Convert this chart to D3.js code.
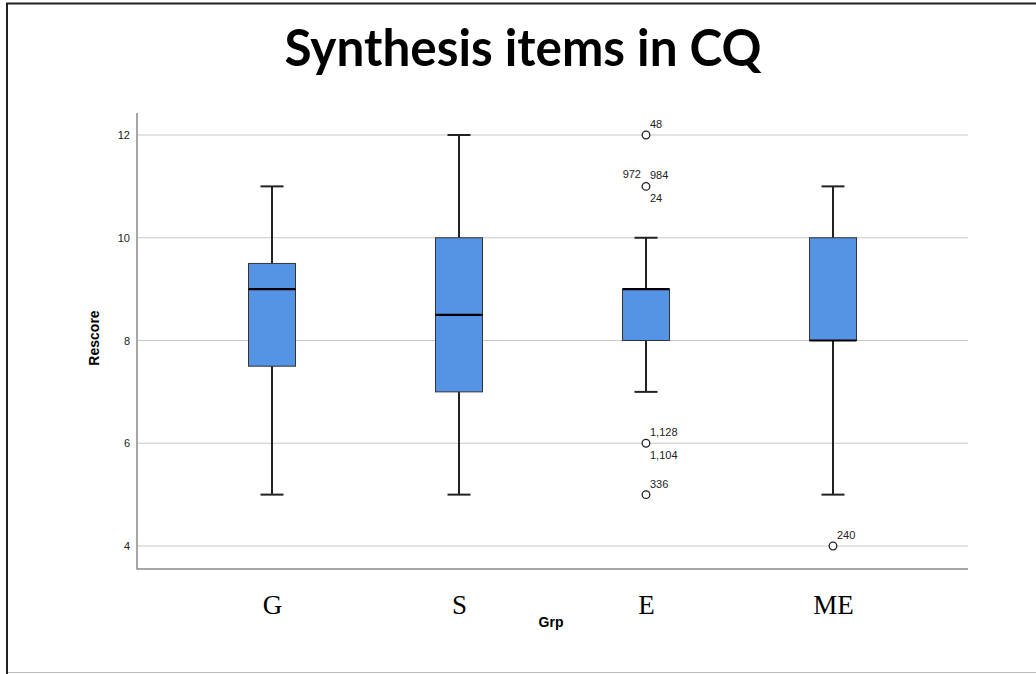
<!DOCTYPE html>
<html>
<head>
<meta charset="utf-8">
<script src="https://cdn.jsdelivr.net/npm/d3@7"></script>
<style>
html,body{margin:0;padding:0;background:#fff;}
svg{display:block;}
</style>
</head>
<body>
<svg id="chart" width="1036" height="674"></svg>
<script>
const categories = ["G", "S", "E", "ME"];
const whiskerLow  = [5, 5, 7, 5];
const q1Values    = [7.5, 7, 8, 8];
const medians     = [9, 8.5, 9, 8];
const q3Values    = [9.5, 10, 9, 10];
const whiskerHigh = [11, 12, 10, 11];
const yTicks = [4, 6, 8, 10, 12];
// outliers: category, value, labels with placement
const outlierCats   = ["E", "E", "E", "E", "ME"];
const outlierValues = [12, 11, 6, 5, 4];
const outlierLabels = [
  [["48","ur"]],
  [["972","ul"],["984","ur"],["24","lr"]],
  [["1,128","ur"],["1,104","lr"]],
  [["336","ur"]],
  [["240","ur"]]
];

(function(){
const svg = d3.select("#chart");

// frame
svg.append("line").attr("x1",7).attr("x2",7).attr("y1",3).attr("y2",674).attr("stroke","#222").attr("stroke-width",2);
svg.append("line").attr("x1",6).attr("x2",1036).attr("y1",3.5).attr("y2",3.5).attr("stroke","#222").attr("stroke-width",2);
svg.append("line").attr("x1",8).attr("x2",1036).attr("y1",672.5).attr("y2",672.5).attr("stroke","#bbb").attr("stroke-width",1);

// title
svg.append("text").attr("x",523).attr("y",66).attr("text-anchor","middle")
  .attr("font-family","Lato, 'Open Sans', sans-serif").attr("font-weight","bold")
  .attr("font-size",51).attr("fill","#000")
  .attr("textLength",477).attr("lengthAdjust","spacingAndGlyphs")
  .text("Synthesis items in CQ");

const pLeft = 137, pRight = 968, pTop = 113, pBottom = 569;
const y = d3.scaleLinear().domain([4, 12]).range([546, 135]);
const x = d3.scalePoint().domain(categories).range([pLeft, pRight]).padding(0.722);

// gridlines
svg.append("g").selectAll("line").data(yTicks).join("line")
  .attr("x1", pLeft).attr("x2", pRight)
  .attr("y1", d => y(d)).attr("y2", d => y(d))
  .attr("stroke", "#c8c8c8").attr("stroke-width", 1.2);

// y axis
const yAxis = d3.axisLeft(y).tickValues(yTicks).tickSize(0).tickPadding(7);
const gy = svg.append("g").attr("transform", `translate(${pLeft},0)`).call(yAxis);
gy.select(".domain").remove();
gy.selectAll("text").attr("font-family","Arial, 'Liberation Sans', sans-serif").attr("font-size",11).attr("fill","#222");
svg.append("line").attr("x1",pLeft).attr("x2",pLeft).attr("y1",pTop).attr("y2",pBottom+0.5).attr("stroke","#888").attr("stroke-width",1.5);

// x axis
const xAxis = d3.axisBottom(x).tickSize(0).tickPadding(26);
const gx = svg.append("g").attr("transform", `translate(0,${pBottom})`).call(xAxis);
gx.select(".domain").remove();
gx.selectAll("text").attr("font-family","'Liberation Serif', 'Times New Roman', serif").attr("font-size",27).attr("fill","#000");
svg.append("line").attr("x1",pLeft).attr("x2",pRight).attr("y1",pBottom).attr("y2",pBottom).attr("stroke","#888").attr("stroke-width",1.5);

// axis titles
svg.append("text").attr("x",551).attr("y",627).attr("text-anchor","middle")
  .attr("font-family","Arial, 'Liberation Sans', sans-serif").attr("font-weight","bold").attr("font-size",14).text("Grp");
svg.append("text").attr("transform","translate(99,338) rotate(-90)").attr("text-anchor","middle")
  .attr("font-family","Arial, 'Liberation Sans', sans-serif").attr("font-weight","bold").attr("font-size",14).text("Rescore");

// boxes
const boxW = 47, capW = 23;
const data = categories.map((c,i) => ({c, lo: whiskerLow[i], q1: q1Values[i], med: medians[i], q3: q3Values[i], hi: whiskerHigh[i]}));
const g = svg.append("g");
data.forEach(d => {
  const cx = x(d.c);
  g.append("line").attr("x1",cx).attr("x2",cx).attr("y1",y(d.hi)).attr("y2",y(d.q3)).attr("stroke","#222").attr("stroke-width",2);
  g.append("line").attr("x1",cx).attr("x2",cx).attr("y1",y(d.q1)).attr("y2",y(d.lo)).attr("stroke","#222").attr("stroke-width",2);
  g.append("line").attr("x1",cx-capW/2).attr("x2",cx+capW/2).attr("y1",y(d.hi)).attr("y2",y(d.hi)).attr("stroke","#222").attr("stroke-width",2);
  g.append("line").attr("x1",cx-capW/2).attr("x2",cx+capW/2).attr("y1",y(d.lo)).attr("y2",y(d.lo)).attr("stroke","#222").attr("stroke-width",2);
  g.append("rect").attr("x",cx-boxW/2).attr("y",y(d.q3)).attr("width",boxW).attr("height",Math.max(0,y(d.q1)-y(d.q3)))
    .attr("fill","#5594e4").attr("stroke","#333").attr("stroke-width",1);
  g.append("line").attr("x1",cx-boxW/2).attr("x2",cx+boxW/2).attr("y1",y(d.med)).attr("y2",y(d.med)).attr("stroke","#000").attr("stroke-width",2.2);
});

// outliers
const og = svg.append("g");
outlierCats.forEach((c,i) => {
  const cx = x(c), cy = y(outlierValues[i]);
  og.append("circle").attr("cx",cx).attr("cy",cy).attr("r",3.8).attr("fill","#fff").attr("stroke","#222").attr("stroke-width",1.3);
  outlierLabels[i].forEach(([t,pos]) => {
    let tx = cx + 4, ty = cy - 7, anchor = "start";
    if (pos === "ul") { tx = cx - 5; ty = cy - 8; anchor = "end"; }
    if (pos === "lr") { tx = cx + 4; ty = cy + 16; }
    og.append("text").attr("x",tx).attr("y",ty).attr("text-anchor",anchor)
      .attr("font-family","Arial, 'Liberation Sans', sans-serif").attr("font-size",11).attr("fill","#222").text(t);
  });
});
})();
</script>
</body>
</html>
